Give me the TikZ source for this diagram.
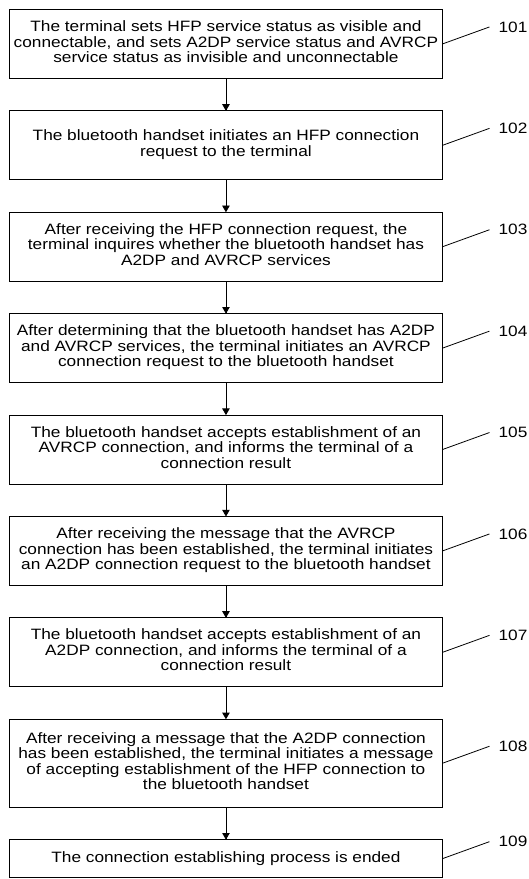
\documentclass[tikz,border=0pt]{standalone}
\usepackage{fontspec}
\setmainfont{Liberation Sans}[FakeStretch=1.15]
\usepackage{tikz}
\usetikzlibrary{matrix, calc, arrows}
\newcommand{\lines}[1]{\begin{tabular}{@{}c@{}}#1\end{tabular}}

\begin{document}
\begin{tikzpicture}[>=triangle 60,x=1pt,y=1pt]
\useasboundingbox (0,0) rectangle (528,-879);
\matrix[matrix of nodes,anchor=north west,inner sep=0pt,outer sep=0pt,row
sep=31.5pt,nodes={draw,line width=0.9pt,minimum width=433pt,
minimum height=69pt,inner sep=2pt,font=\fontsize{15}{15.5}\selectfont}] (f) at (9,-9)
{
|[name=s1]| \lines{The terminal sets HFP service status as visible and\\
connectable, and sets A2DP service status and AVRCP\\
service status as invisible and unconnectable} \\
%
|[name=s2]| \lines{The bluetooth handset initiates an HFP connection\\
request to the terminal} \\
%
|[name=s3]| \lines{After receiving the HFP connection request, the\\
terminal inquires whether the bluetooth handset has\\
A2DP and AVRCP services} \\
%
|[name=s4]| \lines{After determining that the bluetooth handset has A2DP\\
and AVRCP services, the terminal initiates an AVRCP\\
connection request to the bluetooth handset} \\
%
|[name=s5]| \lines{The bluetooth handset accepts establishment of an\\
AVRCP connection, and informs the terminal of a\\
connection result} \\
%
|[name=s6]| \lines{After receiving the message that the AVRCP\\
connection has been established, the terminal initiates\\
an A2DP connection request to the bluetooth handset} \\
%
|[name=s7]| \lines{The bluetooth handset accepts establishment of an\\
A2DP connection, and informs the terminal of a\\
connection result} \\
%
|[name=s8,minimum height=88pt]| \lines{After receiving a message that the A2DP connection\\
has been established, the terminal initiates a message\\
of accepting establishment of the HFP connection to\\
the bluetooth handset} \\
%
|[name=s9,minimum height=38pt]| The connection establishing process is ended \\
};
\draw[->,line width=0.8pt] (s1) edge (s2)
          (s2) edge (s3)
          (s3) edge (s4)
          (s4) edge (s5)
          (s5) edge (s6)
          (s6) edge (s7)
          (s7) edge (s8)
          (s8) edge (s9)
;
\tikzset{lbl/.style={anchor=west,inner xsep=9pt,inner ysep=0pt,
  font=\fontsize{15}{15}\selectfont}}
\node[lbl] (l1) at ($(s1.east)+(47,17)$) {101};
\node[lbl] (l2) at ($(s2.east)+(47,17)$) {102};
\node[lbl] (l3) at ($(s3.east)+(47,17)$) {103};
\node[lbl] (l4) at ($(s4.east)+(47,17)$) {104};
\node[lbl] (l5) at ($(s5.east)+(47,17)$) {105};
\node[lbl] (l6) at ($(s6.east)+(47,17)$) {106};
\node[lbl] (l7) at ($(s7.east)+(47,17)$) {107};
\node[lbl] (l8) at ($(s8.east)+(47,17)$) {108};
\node[lbl] (l9) at ($(s9.east)+(47,17)$) {109};
\draw[line width=0.8pt] (s1.east) -- (l1.west)
          (s2.east) -- (l2.west)
          (s3.east) -- (l3.west)
          (s4.east) -- (l4.west)
          (s5.east) -- (l5.west)
          (s6.east) -- (l6.west)
          (s7.east) -- (l7.west)
          (s8.east) -- (l8.west)
          (s9.east) -- (l9.west)
;
\end{tikzpicture}
\end{document}
